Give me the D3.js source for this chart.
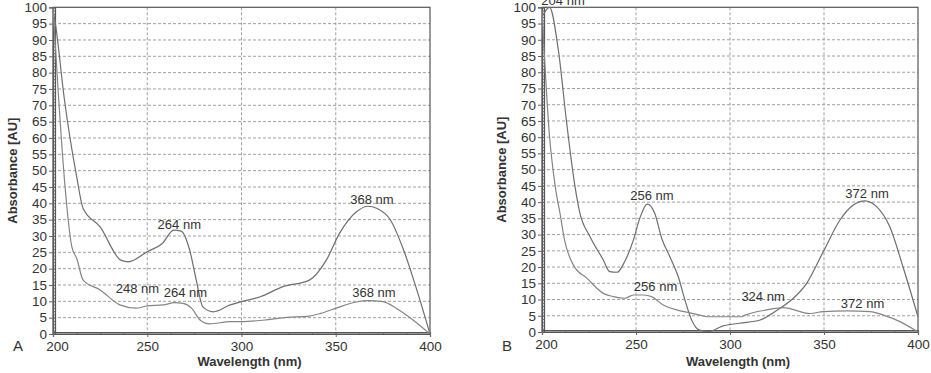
<!DOCTYPE html>
<html>
<head>
<meta charset="utf-8">
<script src="https://cdn.jsdelivr.net/npm/d3@7"></script>
<style>
  body { margin: 0; background: #fff; }
  text { font-family: "Liberation Sans", Arial, sans-serif; fill: #333; }
</style>
</head>
<body>
<div id="chart"></div>
<script>
// panel A
const aUpperWl = [200, 201, 206, 212.6, 216, 225, 236, 240, 250, 258, 264, 268, 272.5, 276, 279.5, 285, 294, 300, 310, 322, 336, 345, 352, 361, 367, 372, 379, 386, 393, 400];
const aUpperAbs = [99, 96, 72, 48, 38.4, 32.8, 22.6, 22.1, 25.2, 27.7, 31.8, 31.5, 25.7, 16.5, 8.3, 6.8, 8.9, 9.9, 11.4, 14.5, 16.5, 22.6, 30.8, 37.4, 39.1, 38.4, 34.9, 25.7, 13.5, 0];
const aLowerWl = [200, 203, 206.4, 210, 212.6, 216, 225, 235.5, 244, 250, 258.5, 264.5, 269, 273.5, 278, 283, 294, 300, 313, 324, 336, 342, 350.5, 361, 367, 375, 382, 391, 400];
const aLowerAbs = [100, 72, 45, 26.7, 23.1, 16.5, 13.5, 8.9, 7.9, 8.6, 8.9, 9.6, 9.4, 7.9, 4.3, 3.1, 3.8, 3.8, 4.3, 5.1, 5.5, 6.3, 8.0, 9.8, 10.2, 9.9, 7.9, 4.3, 0];
const aLabelText = ['264 nm', '248 nm', '264 nm', '368 nm', '368 nm'];
const aLabelWl = [267, 244.8, 270.3, 369.2, 370.3];
const aLabelAbs = [32.1, 12.4, 11.2, 39.9, 11.2];

// panel B
const bUpperWl = [200, 204, 208.7, 213, 217.5, 220, 225.5, 232.6, 236, 240, 244, 248.6, 252, 256, 260, 263.7, 268, 272.5, 276, 279.6, 283.7, 289, 296, 305, 316, 321, 326.6, 333.7, 340.8, 349.6, 358.5, 365.6, 371.8, 378, 385, 392, 400];
const bUpperAbs = [97, 100, 86.8, 65, 45, 37, 29.4, 22.2, 18.6, 18.4, 21.7, 28.3, 35, 39.4, 36.5, 28.8, 23.2, 17, 9.9, 3.7, 0.6, 0.2, 1.8, 2.7, 3.7, 5.2, 7.3, 10.4, 15, 24.7, 34.5, 39.1, 40.4, 38.6, 32.4, 20.1, 4.7];
const bLowerWl = [200, 203.9, 207, 209.6, 212, 216.7, 224, 232.6, 238, 244, 248.6, 254, 258.3, 264.5, 271.6, 278.7, 284, 287.6, 306, 308, 319.5, 328.4, 342.6, 349.6, 362, 374.5, 381.6, 390.4, 400];
const bLowerAbs = [99, 61, 45, 36.5, 28.3, 20.6, 16.5, 11.9, 10.9, 10.4, 11.4, 11.4, 10.9, 8.3, 6.8, 5.9, 5.2, 4.7, 4.7, 5.2, 6.8, 7.5, 5.7, 6.3, 6.5, 6.3, 5.2, 3.2, 0];
const bLabelText = ['204 nm', '256 nm', '256 nm', '324 nm', '372 nm', '372 nm'];
const bLabelWl = [211.2, 258.5, 260.4, 317.6, 372.9, 370.5];
const bLabelAbs = [100.7, 40.5, 12.5, 9.4, 41.4, 7.5];

const xTicks = [200, 250, 300, 350, 400];
const yTicks = d3.range(0, 101, 5);

const width = 931, height = 373;
const svg = d3.select('#chart').append('svg')
  .attr('width', width)
  .attr('height', height);

const zip = (xs, ys) => xs.map((x, i) => [x, ys[i]]);

function drawPanel(p) {
  const x = d3.scaleLinear().domain([200, 400]).range([p.left, p.right]);
  const y = d3.scaleLinear().domain([0, 100]).range([p.bottom, p.top]);
  const g = svg.append('g');

  // grid
  g.append('g').selectAll('line')
    .data(yTicks.filter(d => d > 0 && d < 100))
    .enter().append('line')
    .attr('x1', p.left).attr('x2', p.right)
    .attr('y1', d => y(d)).attr('y2', d => y(d))
    .attr('stroke', '#a0a0a0').attr('stroke-dasharray', '3,2');
  g.append('g').selectAll('line')
    .data(xTicks.filter(d => d > 200 && d < 400))
    .enter().append('line')
    .attr('x1', d => x(d)).attr('x2', d => x(d))
    .attr('y1', p.top).attr('y2', p.bottom)
    .attr('stroke', '#a0a0a0').attr('stroke-dasharray', '3,2');

  // frame
  g.append('rect')
    .attr('x', p.left).attr('y', p.top)
    .attr('width', p.right - p.left).attr('height', p.bottom - p.top)
    .attr('fill', 'none').attr('stroke', '#555').attr('stroke-width', 1.2);

  // axes
  const yAxis = d3.axisLeft(y).tickValues(yTicks).tickSize(4).tickPadding(2);
  g.append('g').attr('transform', `translate(${p.left},0)`).call(yAxis);
  const yMinor = d3.axisLeft(y).tickValues(d3.range(0, 101, 1)).tickSize(2).tickFormat('');
  g.append('g').attr('transform', `translate(${p.left + 2},0)`).call(yMinor);
  const xAxis = d3.axisBottom(x).tickValues(xTicks).tickSize(3).tickPadding(4);
  const xa = g.append('g').attr('transform', `translate(0,${p.bottom})`).call(xAxis);
  const xMinor = d3.axisBottom(x).tickValues(d3.range(200, 401, 12.5)).tickSize(2).tickFormat('');
  g.append('g').attr('transform', `translate(0,${p.bottom - 2})`).call(xMinor);
  g.selectAll('.domain').attr('stroke', '#555').attr('stroke-width', 1.2);
  g.selectAll('.tick line').attr('stroke', '#666');
  g.selectAll('.tick text').attr('font-size', 13.5).attr('fill', '#333')
    .style('font-family', '"Liberation Sans", Arial, sans-serif');
  xa.selectAll('.tick text').filter(d => d === 200).attr('dx', 4);

  // curves
  const line = d3.line().x(d => x(d[0])).y(d => y(d[1])).curve(d3.curveMonotoneX);
  g.append('clipPath').attr('id', 'clip' + p.name)
    .append('rect').attr('x', p.left).attr('y', p.top)
    .attr('width', p.right - p.left).attr('height', p.bottom - p.top);
  const curves = g.append('g').attr('clip-path', `url(#clip${p.name})`);
  p.series.forEach((s, i) => {
    curves.append('path')
      .datum(s)
      .attr('d', line)
      .attr('fill', 'none')
      .attr('stroke', i === 0 ? '#6e6e6e' : '#858585')
      .attr('stroke-width', 1.2);
  });

  // peak labels
  g.append('g').selectAll('text')
    .data(p.labels)
    .enter().append('text')
    .attr('x', d => x(d.wl))
    .attr('y', d => y(d.abs))
    .attr('text-anchor', 'middle')
    .attr('font-size', 13)
    .text(d => d.text);

  // titles
  g.append('text')
    .attr('x', (p.left + p.right) / 2 + 8)
    .attr('y', 366)
    .attr('text-anchor', 'middle')
    .attr('font-size', 13).attr('font-weight', 'bold')
    .text('Wavelength (nm)');
  g.append('text')
    .attr('transform', `translate(${p.left - 36},${(p.top + p.bottom) / 2}) rotate(-90)`)
    .attr('text-anchor', 'middle')
    .attr('font-size', 13).attr('font-weight', 'bold')
    .text('Absorbance [AU]');
  g.append('text')
    .attr('x', p.left - 35)
    .attr('y', 351)
    .attr('text-anchor', 'middle')
    .attr('font-size', 15)
    .text(p.name);
}

const mkLabels = (t, w, a) => t.map((s, i) => ({ text: s, wl: w[i], abs: a[i] }));

drawPanel({
  name: 'A', left: 53, right: 430, top: 7.3, bottom: 334,
  series: [zip(aUpperWl, aUpperAbs), zip(aLowerWl, aLowerAbs)],
  labels: mkLabels(aLabelText, aLabelWl, aLabelAbs)
});
drawPanel({
  name: 'B', left: 542, right: 918, top: 7.3, bottom: 332,
  series: [zip(bUpperWl, bUpperAbs), zip(bLowerWl, bLowerAbs)],
  labels: mkLabels(bLabelText, bLabelWl, bLabelAbs)
});
</script>
</body>
</html>
